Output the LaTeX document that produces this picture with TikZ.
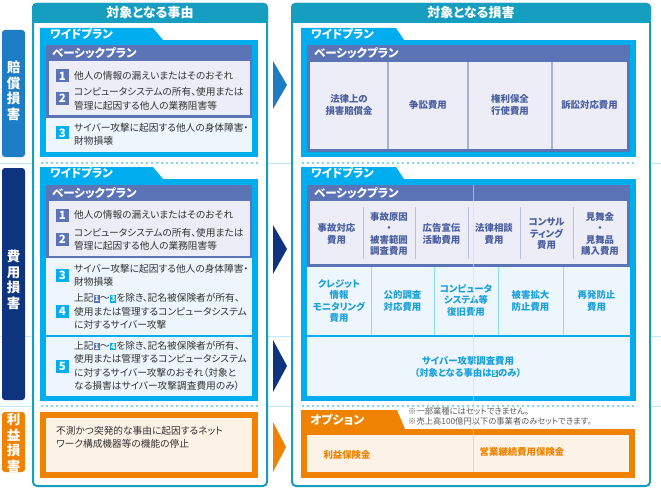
\documentclass[tikz,border=0pt]{standalone}
\usepackage{fontspec}
\setmainfont{Noto Sans CJK JP}[RawFeature=+palt]

\definecolor{panelteal}{RGB}{22,158,192}
\definecolor{wide}{RGB}{0,174,239}
\definecolor{basic}{RGB}{90,116,182}
\definecolor{lav}{RGB}{236,237,246}
\definecolor{pale}{RGB}{236,246,252}
\definecolor{navy}{RGB}{14,52,128}
\definecolor{midblue}{RGB}{30,124,196}
\definecolor{opt}{RGB}{239,130,0}
\definecolor{cream}{RGB}{253,242,230}
\definecolor{ink}{RGB}{51,51,51}
\definecolor{cyantext}{RGB}{28,160,220}
\definecolor{slatetext}{RGB}{74,94,160}
\definecolor{guide}{RGB}{196,230,245}

\newcommand{\numchip}[2]{{\setlength{\fboxsep}{1pt}\colorbox{#1}{\textcolor{white}{\fontsize{7.5}{7.5}\selectfont\bfseries #2}}}}

\tikzset{
  hdr/.style={text=white, inner sep=0pt, font=\fontsize{13}{15}\selectfont\bfseries},
  tabtxt/.style={text=white, anchor=west, inner sep=0pt, font=\fontsize{11.5}{13}\selectfont\bfseries},
  item/.style={text=ink, anchor=west, align=left, inner sep=0pt, font=\fontsize{9.7}{13.5}\selectfont},
  num/.style={minimum size=13pt, inner sep=0pt, text=white, font=\fontsize{11.5}{11.5}\selectfont\bfseries},
  cell/.style={align=center, inner sep=0pt, text=slatetext, font=\fontsize{9.4}{11.5}\selectfont\bfseries},
  ccell/.style={cell, text=cyantext},
  ocell/.style={cell, text=opt},
  side/.style={align=center, inner sep=0pt, text=white, font=\fontsize{13.5}{15.5}\selectfont\bfseries},
  dots/.style={wide, line width=1.8pt, dash pattern=on 0pt off 5pt, line cap=round},
  faint/.style={guide, line width=0.8pt}
}

\begin{document}
\begin{tikzpicture}[x=1pt, y=-1pt]
\useasboundingbox[fill=white] (0,0) rectangle (661,492);

\foreach \gy in {163,336,406}
  \draw[faint] (0,\gy) -- (661,\gy);

% side labels
\fill[midblue, rounded corners=3] (2,30) rectangle (25,157);
\node[side] (lblA) at (13.5,91) {賠\\償\\損\\害};
\fill[navy, rounded corners=3] (2,168) rectangle (25,400);
\node[side] (lblB) at (13.5,280) {費\\用\\損\\害};
\fill[opt, rounded corners=3] (2,412) rectangle (25,472);
\node[side] (lblC) at (13.5,443) {利\\益\\損\\害};

% panels
\draw[panelteal, line width=2pt, fill=white, rounded corners=4] (33,4) rectangle (267,486);
\fill[panelteal, rounded corners=4] (32,3) rectangle (268,23);
\fill[panelteal] (32,14) rectangle (268,23);
\node[hdr] (hdrL) at (150,13) {対象となる事由};

\draw[panelteal, line width=2pt, fill=white, rounded corners=4] (292,4) rectangle (650,486);
\fill[panelteal, rounded corners=4] (291,3) rectangle (651,23);
\fill[panelteal] (291,14) rectangle (651,23);
\node[hdr] (hdrR) at (471,13) {対象となる損害};

% arrows
\fill[midblue] (273,61) -- (287,85) -- (273,109) -- cycle;
\fill[navy] (273,225) -- (287,249) -- (273,274) -- cycle;
\fill[navy] (273,340) -- (287,366) -- (273,392) -- cycle;
\fill[opt] (273,422) -- (286,447) -- (273,472) -- cycle;

% left, section 1
\fill[wide] (40,28) -- (153,28) -- (163,40) -- (40,40) -- cycle;
\node[tabtxt] (tabL1) at (50,34) {ワイドプラン};
\fill[wide] (40,40) rectangle (258,157);
\fill[pale] (46,45) rectangle (252,152);
\fill[basic] (46,45) rectangle (252,118);
\fill[lav] (48.5,61) rectangle (249.5,115.5);
\node[tabtxt] (basL1) at (52,53) {ベーシックプラン};
\node[num, fill=basic] (l1n1) at (62.5,76) {1};
\node[item] (l1t1) at (74,76) {他人の情報の漏えいまたはそのおそれ};
\node[num, fill=basic] (l1n2) at (62.5,98.5) {2};
\node[item] (l1t2) at (74,99) {コンピュータシステムの所有、使用または\\管理に起因する他人の業務阻害等};
\node[num, fill=wide] (l1n3) at (62.5,133) {3};
\node[item] (l1t3) at (74,134.5) {サイバー攻撃に起因する他人の身体障害・\\財物損壊};

\draw[dots] (42,163) -- (258,163);

% left, section 2
\fill[wide] (40,167) -- (153,167) -- (163,179) -- (40,179) -- cycle;
\node[tabtxt] (tabL2) at (50,173) {ワイドプラン};
\fill[wide] (40,179) rectangle (258,401);
\fill[pale] (46,185) rectangle (252,396);
\fill[basic] (46,185) rectangle (252,258);
\fill[lav] (48.5,201) rectangle (249.5,255.5);
\node[tabtxt] (basL2) at (52,193) {ベーシックプラン};
\node[num, fill=basic] (l2n1) at (62.5,215) {1};
\node[item] (l2t1) at (74,215) {他人の情報の漏えいまたはそのおそれ};
\node[num, fill=basic] (l2n2) at (62.5,239) {2};
\node[item] (l2t2) at (74,239.5) {コンピュータシステムの所有、使用または\\管理に起因する他人の業務阻害等};
\node[num, fill=wide] (l2n3) at (62.5,275) {3};
\node[item] (l2t3) at (74,275.5) {サイバー攻撃に起因する他人の身体障害・\\財物損壊};
\node[num, fill=wide] (l2n4) at (62.5,311) {4};
\node[item] (l2t4) at (74,311.5) {上記\numchip{basic}{1}～\numchip{wide}{3}を除き、記名被保険者が所有、\\使用または管理するコンピュータシステム\\に対するサイバー攻撃};
\draw[wide, line width=1.2pt] (46,336) -- (252,336);
\node[num, fill=wide] (l2n5) at (62.5,366) {5};
\node[item] (l2t5) at (74,366) {上記\numchip{basic}{1}～\numchip{wide}{4}を除き、記名被保険者が所有、\\使用または管理するコンピュータシステム\\に対するサイバー攻撃のおそれ（対象と\\なる損害はサイバー攻撃調査費用のみ）};

\draw[dots] (42,406) -- (258,406);

% left, section 3
\fill[opt] (40,412) rectangle (258,478);
\fill[cream] (46,418) rectangle (252,472);
\node[item] (l3t1) at (56,437.5) {不測かつ突発的な事由に起因するネット\\ワーク構成機器等の機能の停止};

% right, section 1
\fill[wide] (301,28) -- (396,28) -- (404,40) -- (301,40) -- cycle;
\node[tabtxt] (tabR1) at (311,34) {ワイドプラン};
\fill[wide] (301,40) rectangle (636,157);
\fill[basic] (307,45) rectangle (630,152);
\fill[lav] (310,62) rectangle (627,149);
\node[tabtxt] (basR1) at (314,53.5) {ベーシックプラン};
\foreach \dx in {388,468,552}
  \draw[basic!55, line width=2pt] (\dx,62) -- (\dx,149);
\node[cell] (r1c1) at (349,105) {法律上の\\損害賠償金};
\node[cell] (r1c2) at (428,105) {争訟費用};
\node[cell] (r1c3) at (510,105) {権利保全\\行使費用};
\node[cell] (r1c4) at (589.5,105) {訴訟対応費用};

\draw[dots] (303,163) -- (636,163);

% right, section 2
\fill[wide] (301,167) -- (396,167) -- (404,179) -- (301,179) -- cycle;
\node[tabtxt] (tabR2) at (311,173) {ワイドプラン};
\fill[wide] (301,179) rectangle (636,401);
\fill[pale] (307,185) rectangle (630,396);
\fill[basic] (307,185) rectangle (630,267);
\fill[lav] (310,201) rectangle (627,264);
\node[tabtxt] (basR2) at (314,193) {ベーシックプラン};
\foreach \dx in {363,415,468,520,573}
  \draw[basic!45, line width=1pt] (\dx,207) -- (\dx,259);
\node[cell] (r2c1) at (336.5,234) {事故対応\\費用};
\node[cell] (r2c2) at (389,234) {事故原因\\・\\被害範囲\\調査費用};
\node[cell] (r2c3) at (441.5,234) {広告宣伝\\活動費用};
\node[cell] (r2c4) at (494,234) {法律相談\\費用};
\node[cell] (r2c5) at (546.5,234) {コンサル\\ティング\\費用};
\node[cell] (r2c6) at (600,234) {見舞金\\・\\見舞品\\購入費用};
\foreach \dx in {371,434,498,563}
  \draw[wide!45, line width=1pt] (\dx,267) -- (\dx,336);
\node[ccell] (r2w1) at (339,301) {クレジット\\情報\\モニタリング\\費用};
\node[ccell] (r2w2) at (402.5,301) {公的調査\\対応費用};
\node[ccell] (r2w3) at (466,300) {コンピュータ\\システム等\\復旧費用};
\node[ccell] (r2w4) at (530.5,301) {被害拡大\\防止費用};
\node[ccell] (r2w5) at (596.5,301) {再発防止\\費用};
\draw[wide, line width=1.2pt] (307,336) -- (630,336);
\node[ccell] (r2w6) at (468,367) {サイバー攻撃調査費用\\（対象となる事由は\numchip{cyantext}{5}のみ）};

\draw[dots] (303,406) -- (636,406);

% right, section 3
\fill[opt] (301,410) -- (397,410) -- (405,429) -- (301,429) -- cycle;
\node[tabtxt, font=\fontsize{12}{13}\selectfont\bfseries] (tabR3) at (310,420) {オプション};
\node[anchor=west, align=left, inner sep=0pt, text=ink!80, font=\fontsize{8.3}{9.5}\selectfont] (noteR3) at (408,416.5) {※一部業種にはセットできません。\\※売上高100億円以下の事業者のみセットできます。};
\fill[opt] (301,429) rectangle (635,478);
\fill[cream] (307,435) rectangle (629,472);
\draw[opt!50, line width=1pt] (473,435) -- (473,472);
\node[ocell] (r3c1) at (347,455) {利益保険金};
\node[ocell] (r3c2) at (522,452) {営業継続費用保険金};

\draw[faint, opacity=0.6] (473,185) -- (473,472);
\end{tikzpicture}
\end{document}
